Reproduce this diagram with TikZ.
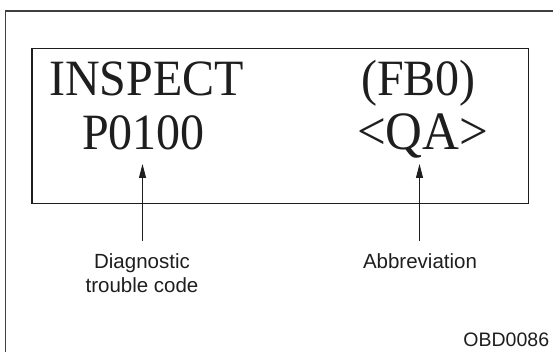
\documentclass[tikz,border=0pt]{standalone}
\usepackage{fontspec}
\setmainfont{Liberation Serif}
\setsansfont{Liberation Sans}
\usetikzlibrary{arrows.meta}
\definecolor{ink}{HTML}{1E1E1E}
\begin{document}
\begin{tikzpicture}[x=1pt,y=-1pt,
  big/.style={inner sep=0pt,font=\fontsize{48}{52}\selectfont,text=ink,yscale=1.06},
  lab/.style={inner sep=0pt,font=\sffamily\fontsize{20.5}{24.4}\selectfont,text=ink,align=center},
  arr/.style={draw=ink,line width=0.9pt,-{Triangle[length=14pt,width=7pt]}},
  frame/.style={draw=ink!85,line width=1.3pt},
  boxline/.style={draw=ink,line width=1.5pt}]
\useasboundingbox[fill=white] (0,0) rectangle (553,352);
% outer frame
\draw[frame] (5.7,352) -- (5.7,11) -- (553,11);
% inner box
\node[boxline,inner sep=0pt,minimum width=496.4pt,minimum height=155.3pt,anchor=north west] (box) at (31.3,47.7) {};
% texts
\node[big,anchor=base west] (inspect) at (49,96) {INSPECT};
\node[big,anchor=base west] (code) at (82,149.3) {P0100};
\node[big,anchor=base west] (fb) at (361,96) {(FB0)};
\node[big,anchor=base west,font=\fontsize{51}{54}\selectfont] (qa) at (357,149.3) {<QA>};
% labels
\node[lab,anchor=base] (dtc) at (142,292.7) {Diagnostic\\trouble code};
\node[lab,anchor=base] (abbr) at (420,268.3) {Abbreviation};
\node[inner sep=0pt,font=\sffamily\fontsize{19.5}{22}\selectfont,text=ink,anchor=base east] (id) at (549.3,346) {OBD0086};
% arrows
\coordinate (tl) at (142.5,164);
\coordinate (bl) at (142.5,240.7);
\coordinate (tr) at (419.5,164);
\coordinate (br) at (419.5,240.7);
\draw[arr] (bl) -- (tl);
\draw[arr] (br) -- (tr);
\end{tikzpicture}
\end{document}
